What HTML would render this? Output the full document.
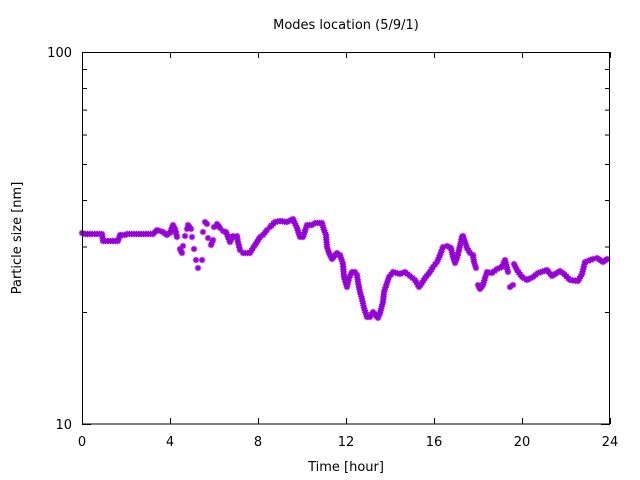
<!DOCTYPE html>
<html><head><meta charset="utf-8"><style>
html,body{margin:0;padding:0;background:#fff;}
svg{display:block;font-family:"DejaVu Sans","Liberation Sans",sans-serif;}
</style></head><body>
<svg id="s" width="640" height="480" xmlns="http://www.w3.org/2000/svg">
<rect width="640" height="480" fill="#fff"/>
<text x="346" y="29" font-size="13" text-anchor="middle">Modes location (5/9/1)</text>
<text x="72" y="57" font-size="13" text-anchor="end">100</text>
<text x="72" y="429" font-size="13" text-anchor="end">10</text>
<g font-size="13" text-anchor="middle">
<text x="82" y="446">0</text><text x="170" y="446">4</text><text x="258" y="446">8</text>
<text x="346" y="446">12</text><text x="434" y="446">16</text><text x="522" y="446">20</text><text x="610" y="446">24</text>
</g>
<text x="346" y="471" font-size="13" text-anchor="middle">Time [hour]</text>
<text transform="translate(21,238) rotate(-90)" font-size="13" text-anchor="middle">Particle size [nm]</text>
<g id="ax" stroke="#000" stroke-width="1" fill="none"></g>
<g id="pts" stroke="#9400d3" stroke-width="1.4"></g>
<rect x="82.5" y="52.5" width="527" height="371.5" fill="none" stroke="#000"/>
</svg>
<script>
var ax=document.getElementById('ax'),NS="http://www.w3.org/2000/svg";
function ln(g,x1,y1,x2,y2){var l=document.createElementNS(NS,'line');l.setAttribute('x1',x1);l.setAttribute('y1',y1);l.setAttribute('x2',x2);l.setAttribute('y2',y2);g.appendChild(l);}
for(var i=0;i<=6;i++){var x=82.5+88*i;ln(ax,x,424,x,418);ln(ax,x,52,x,58);}
for(var v=10;v<=100;v+=10){var y=424.5-372*Math.log10(v/10);var L=(v==10||v==100)?9:5;ln(ax,82,y,82+L,y);ln(ax,610,y,610-L,y);}
var P=[[82,233],[85,234],[102,234],[103,241],[118,241],[120,235],[125,235],[127,234],[153,234],[157,230],[163,232],[167,235],[170,233],[173,225],[175,229],
[177,237],[180,249],[182,253],[183,246],[185,236],[187,229],[188,225],[191,229],[192,237],[194,249],[196,260],[198,268],[202,260],[203,232],[205,222],[207,224],[208,238],[211,245],[213,240],[214,227],[217,224],[220,228],[223,231],[226,232],[228,237],[230,242],[233,236],[237,236],[238,242],[240,250],[243,253],[250,253],[253,248],[257,242],[260,237],[263,235],[267,230],[270,227],[275,222],[280,221],[287,222],[293,219],[297,228],[300,237],[303,237],[307,225],[312,225],[315,223],[322,223],[324,230],[326,235],[327,247],[329,253],[332,259],[337,253],[340,255],
[343,264],[344,277],[347,287],[349,278],[352,272],[355,272],[357,275],[358,282],[360,292],[362,299],[364,308],[367,317],[370,317],[373,312],[378,318],[380,313],[383,302],[384,292],[387,283],[389,277],[393,272],[400,274],[405,272],[410,276],[415,280],[419,287],[422,283],[425,278],[430,272],[433,267],[437,262],[440,255],[443,247],[447,246],[451,248],[453,257],[455,263],[457,258],[459,250],[462,237],[463,236],[465,242],[467,248],[470,253],[473,255],[474,262],[476,268],[478,285],[480,289],[483,285],[485,278],[487,272],[492,273],[497,269],[502,267],[505,260],[508,272],[510,287],[513,285],[514,264],[517,270],[522,277],[527,280],[533,277],[538,273],[547,270],[552,276],[560,271],[563,273],[570,280],[578,281],[582,274],[585,262],[593,259],[597,258],[603,262],[607,259]];
var g=document.getElementById('pts'),Q=[];
for(var i=0;i<P.length;i++){Q.push(P[i]);if(i+1<P.length){var a=P[i],b=P[i+1],dx=b[0]-a[0],dy=b[1]-a[1],d=Math.sqrt(dx*dx+dy*dy);
var scat=(a[0]>=176&&a[0]<215);
if(((!scat&&d<14)||Math.abs(dy)<=5)&&d>2.5){var n=Math.floor(d/2.2);for(var k=1;k<n;k++)Q.push([a[0]+dx*k/n,a[1]+dy*k/n]);}}}
var r=3.2,s=2.3;
Q.forEach(function(p){var x=p[0],y=p[1];ln(g,x-r,y,x+r,y);ln(g,x,y-r,x,y+r);ln(g,x-s,y-s,x+s,y+s);ln(g,x-s,y+s,x+s,y-s);});
</script>
</body></html>
